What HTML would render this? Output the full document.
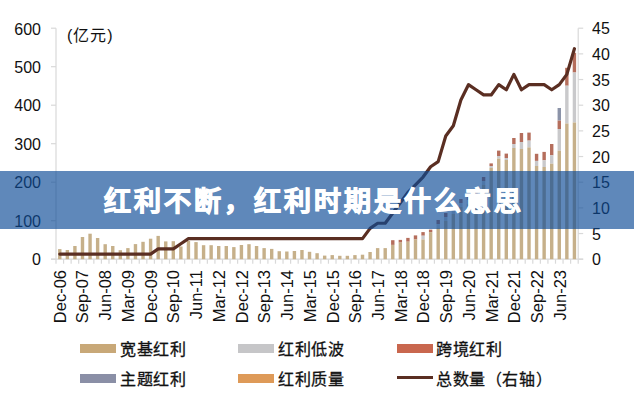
<!DOCTYPE html>
<html lang="zh-CN"><head><meta charset="utf-8">
<style>
html,body{margin:0;padding:0;background:#fff;}
body{width:634px;height:400px;position:relative;overflow:hidden;font-family:"Liberation Sans",sans-serif;color:#111;}
svg{position:absolute;left:0;top:0;}
.yl{position:absolute;right:593px;font-size:16px;line-height:18px;text-align:right;}
.yr{position:absolute;left:592px;font-size:16px;line-height:18px;}
.xl{position:absolute;top:270.2px;width:0;height:0;font-size:16.5px;line-height:18px;}
.xl span{position:absolute;right:0;top:0;white-space:nowrap;transform-origin:100% 0;transform:rotate(-90deg);}
.unit{position:absolute;left:67px;top:27px;font-size:16px;line-height:18px;letter-spacing:1px;}
.banner{position:absolute;left:0;top:171px;width:634px;height:57.5px;background:rgba(12,75,150,0.66);}
.title{position:absolute;left:104px;top:183.5px;font-size:27px;line-height:36px;font-weight:900;color:#fff;-webkit-text-stroke:1px #fff;white-space:nowrap;letter-spacing:3px;}
.leg{position:absolute;font-size:16px;line-height:18px;white-space:nowrap;letter-spacing:0.6px;-webkit-text-stroke:0.3px #111;}
.sw{position:absolute;width:36px;height:9px;}
</style></head><body>
<svg width="634" height="400" viewBox="0 0 634 400">
<line x1="56.0" y1="28.2" x2="56.0" y2="259.2" stroke="#D9D9D9" stroke-width="1.2"/><line x1="578.2" y1="28.2" x2="578.2" y2="259.2" stroke="#D9D9D9" stroke-width="1.2"/><line x1="51.0" y1="259.20" x2="56.0" y2="259.20" stroke="#D9D9D9" stroke-width="1.2"/><line x1="51.0" y1="220.70" x2="56.0" y2="220.70" stroke="#D9D9D9" stroke-width="1.2"/><line x1="51.0" y1="182.20" x2="56.0" y2="182.20" stroke="#D9D9D9" stroke-width="1.2"/><line x1="51.0" y1="143.70" x2="56.0" y2="143.70" stroke="#D9D9D9" stroke-width="1.2"/><line x1="51.0" y1="105.20" x2="56.0" y2="105.20" stroke="#D9D9D9" stroke-width="1.2"/><line x1="51.0" y1="66.70" x2="56.0" y2="66.70" stroke="#D9D9D9" stroke-width="1.2"/><line x1="51.0" y1="28.20" x2="56.0" y2="28.20" stroke="#D9D9D9" stroke-width="1.2"/><line x1="578.2" y1="259.20" x2="583.2" y2="259.20" stroke="#D9D9D9" stroke-width="1.2"/><line x1="578.2" y1="233.53" x2="583.2" y2="233.53" stroke="#D9D9D9" stroke-width="1.2"/><line x1="578.2" y1="207.87" x2="583.2" y2="207.87" stroke="#D9D9D9" stroke-width="1.2"/><line x1="578.2" y1="182.20" x2="583.2" y2="182.20" stroke="#D9D9D9" stroke-width="1.2"/><line x1="578.2" y1="156.53" x2="583.2" y2="156.53" stroke="#D9D9D9" stroke-width="1.2"/><line x1="578.2" y1="130.87" x2="583.2" y2="130.87" stroke="#D9D9D9" stroke-width="1.2"/><line x1="578.2" y1="105.20" x2="583.2" y2="105.20" stroke="#D9D9D9" stroke-width="1.2"/><line x1="578.2" y1="79.53" x2="583.2" y2="79.53" stroke="#D9D9D9" stroke-width="1.2"/><line x1="578.2" y1="53.87" x2="583.2" y2="53.87" stroke="#D9D9D9" stroke-width="1.2"/><line x1="578.2" y1="28.20" x2="583.2" y2="28.20" stroke="#D9D9D9" stroke-width="1.2"/><line x1="51.0" y1="259.2" x2="583.2" y2="259.2" stroke="#D9D9D9" stroke-width="1.2"/><line x1="56.00" y1="259.2" x2="56.00" y2="263.7" stroke="#D9D9D9" stroke-width="1.2"/><line x1="63.57" y1="259.2" x2="63.57" y2="263.7" stroke="#D9D9D9" stroke-width="1.2"/><line x1="71.14" y1="259.2" x2="71.14" y2="263.7" stroke="#D9D9D9" stroke-width="1.2"/><line x1="78.70" y1="259.2" x2="78.70" y2="263.7" stroke="#D9D9D9" stroke-width="1.2"/><line x1="86.27" y1="259.2" x2="86.27" y2="263.7" stroke="#D9D9D9" stroke-width="1.2"/><line x1="93.84" y1="259.2" x2="93.84" y2="263.7" stroke="#D9D9D9" stroke-width="1.2"/><line x1="101.41" y1="259.2" x2="101.41" y2="263.7" stroke="#D9D9D9" stroke-width="1.2"/><line x1="108.98" y1="259.2" x2="108.98" y2="263.7" stroke="#D9D9D9" stroke-width="1.2"/><line x1="116.54" y1="259.2" x2="116.54" y2="263.7" stroke="#D9D9D9" stroke-width="1.2"/><line x1="124.11" y1="259.2" x2="124.11" y2="263.7" stroke="#D9D9D9" stroke-width="1.2"/><line x1="131.68" y1="259.2" x2="131.68" y2="263.7" stroke="#D9D9D9" stroke-width="1.2"/><line x1="139.25" y1="259.2" x2="139.25" y2="263.7" stroke="#D9D9D9" stroke-width="1.2"/><line x1="146.82" y1="259.2" x2="146.82" y2="263.7" stroke="#D9D9D9" stroke-width="1.2"/><line x1="154.39" y1="259.2" x2="154.39" y2="263.7" stroke="#D9D9D9" stroke-width="1.2"/><line x1="161.95" y1="259.2" x2="161.95" y2="263.7" stroke="#D9D9D9" stroke-width="1.2"/><line x1="169.52" y1="259.2" x2="169.52" y2="263.7" stroke="#D9D9D9" stroke-width="1.2"/><line x1="177.09" y1="259.2" x2="177.09" y2="263.7" stroke="#D9D9D9" stroke-width="1.2"/><line x1="184.66" y1="259.2" x2="184.66" y2="263.7" stroke="#D9D9D9" stroke-width="1.2"/><line x1="192.23" y1="259.2" x2="192.23" y2="263.7" stroke="#D9D9D9" stroke-width="1.2"/><line x1="199.79" y1="259.2" x2="199.79" y2="263.7" stroke="#D9D9D9" stroke-width="1.2"/><line x1="207.36" y1="259.2" x2="207.36" y2="263.7" stroke="#D9D9D9" stroke-width="1.2"/><line x1="214.93" y1="259.2" x2="214.93" y2="263.7" stroke="#D9D9D9" stroke-width="1.2"/><line x1="222.50" y1="259.2" x2="222.50" y2="263.7" stroke="#D9D9D9" stroke-width="1.2"/><line x1="230.07" y1="259.2" x2="230.07" y2="263.7" stroke="#D9D9D9" stroke-width="1.2"/><line x1="237.63" y1="259.2" x2="237.63" y2="263.7" stroke="#D9D9D9" stroke-width="1.2"/><line x1="245.20" y1="259.2" x2="245.20" y2="263.7" stroke="#D9D9D9" stroke-width="1.2"/><line x1="252.77" y1="259.2" x2="252.77" y2="263.7" stroke="#D9D9D9" stroke-width="1.2"/><line x1="260.34" y1="259.2" x2="260.34" y2="263.7" stroke="#D9D9D9" stroke-width="1.2"/><line x1="267.91" y1="259.2" x2="267.91" y2="263.7" stroke="#D9D9D9" stroke-width="1.2"/><line x1="275.48" y1="259.2" x2="275.48" y2="263.7" stroke="#D9D9D9" stroke-width="1.2"/><line x1="283.04" y1="259.2" x2="283.04" y2="263.7" stroke="#D9D9D9" stroke-width="1.2"/><line x1="290.61" y1="259.2" x2="290.61" y2="263.7" stroke="#D9D9D9" stroke-width="1.2"/><line x1="298.18" y1="259.2" x2="298.18" y2="263.7" stroke="#D9D9D9" stroke-width="1.2"/><line x1="305.75" y1="259.2" x2="305.75" y2="263.7" stroke="#D9D9D9" stroke-width="1.2"/><line x1="313.32" y1="259.2" x2="313.32" y2="263.7" stroke="#D9D9D9" stroke-width="1.2"/><line x1="320.88" y1="259.2" x2="320.88" y2="263.7" stroke="#D9D9D9" stroke-width="1.2"/><line x1="328.45" y1="259.2" x2="328.45" y2="263.7" stroke="#D9D9D9" stroke-width="1.2"/><line x1="336.02" y1="259.2" x2="336.02" y2="263.7" stroke="#D9D9D9" stroke-width="1.2"/><line x1="343.59" y1="259.2" x2="343.59" y2="263.7" stroke="#D9D9D9" stroke-width="1.2"/><line x1="351.16" y1="259.2" x2="351.16" y2="263.7" stroke="#D9D9D9" stroke-width="1.2"/><line x1="358.72" y1="259.2" x2="358.72" y2="263.7" stroke="#D9D9D9" stroke-width="1.2"/><line x1="366.29" y1="259.2" x2="366.29" y2="263.7" stroke="#D9D9D9" stroke-width="1.2"/><line x1="373.86" y1="259.2" x2="373.86" y2="263.7" stroke="#D9D9D9" stroke-width="1.2"/><line x1="381.43" y1="259.2" x2="381.43" y2="263.7" stroke="#D9D9D9" stroke-width="1.2"/><line x1="389.00" y1="259.2" x2="389.00" y2="263.7" stroke="#D9D9D9" stroke-width="1.2"/><line x1="396.57" y1="259.2" x2="396.57" y2="263.7" stroke="#D9D9D9" stroke-width="1.2"/><line x1="404.13" y1="259.2" x2="404.13" y2="263.7" stroke="#D9D9D9" stroke-width="1.2"/><line x1="411.70" y1="259.2" x2="411.70" y2="263.7" stroke="#D9D9D9" stroke-width="1.2"/><line x1="419.27" y1="259.2" x2="419.27" y2="263.7" stroke="#D9D9D9" stroke-width="1.2"/><line x1="426.84" y1="259.2" x2="426.84" y2="263.7" stroke="#D9D9D9" stroke-width="1.2"/><line x1="434.41" y1="259.2" x2="434.41" y2="263.7" stroke="#D9D9D9" stroke-width="1.2"/><line x1="441.97" y1="259.2" x2="441.97" y2="263.7" stroke="#D9D9D9" stroke-width="1.2"/><line x1="449.54" y1="259.2" x2="449.54" y2="263.7" stroke="#D9D9D9" stroke-width="1.2"/><line x1="457.11" y1="259.2" x2="457.11" y2="263.7" stroke="#D9D9D9" stroke-width="1.2"/><line x1="464.68" y1="259.2" x2="464.68" y2="263.7" stroke="#D9D9D9" stroke-width="1.2"/><line x1="472.25" y1="259.2" x2="472.25" y2="263.7" stroke="#D9D9D9" stroke-width="1.2"/><line x1="479.81" y1="259.2" x2="479.81" y2="263.7" stroke="#D9D9D9" stroke-width="1.2"/><line x1="487.38" y1="259.2" x2="487.38" y2="263.7" stroke="#D9D9D9" stroke-width="1.2"/><line x1="494.95" y1="259.2" x2="494.95" y2="263.7" stroke="#D9D9D9" stroke-width="1.2"/><line x1="502.52" y1="259.2" x2="502.52" y2="263.7" stroke="#D9D9D9" stroke-width="1.2"/><line x1="510.09" y1="259.2" x2="510.09" y2="263.7" stroke="#D9D9D9" stroke-width="1.2"/><line x1="517.66" y1="259.2" x2="517.66" y2="263.7" stroke="#D9D9D9" stroke-width="1.2"/><line x1="525.22" y1="259.2" x2="525.22" y2="263.7" stroke="#D9D9D9" stroke-width="1.2"/><line x1="532.79" y1="259.2" x2="532.79" y2="263.7" stroke="#D9D9D9" stroke-width="1.2"/><line x1="540.36" y1="259.2" x2="540.36" y2="263.7" stroke="#D9D9D9" stroke-width="1.2"/><line x1="547.93" y1="259.2" x2="547.93" y2="263.7" stroke="#D9D9D9" stroke-width="1.2"/><line x1="555.50" y1="259.2" x2="555.50" y2="263.7" stroke="#D9D9D9" stroke-width="1.2"/><line x1="563.06" y1="259.2" x2="563.06" y2="263.7" stroke="#D9D9D9" stroke-width="1.2"/><line x1="570.63" y1="259.2" x2="570.63" y2="263.7" stroke="#D9D9D9" stroke-width="1.2"/><line x1="578.20" y1="259.2" x2="578.20" y2="263.7" stroke="#D9D9D9" stroke-width="1.2"/><rect x="58.08" y="249.10" width="3.4" height="10.10" fill="#C6B08A"/><rect x="65.65" y="250.00" width="3.4" height="9.20" fill="#C6B08A"/><rect x="73.22" y="246.00" width="3.4" height="13.20" fill="#C6B08A"/><rect x="80.79" y="237.00" width="3.4" height="22.20" fill="#C6B08A"/><rect x="88.36" y="233.70" width="3.4" height="25.50" fill="#C6B08A"/><rect x="95.92" y="238.00" width="3.4" height="21.20" fill="#C6B08A"/><rect x="103.49" y="244.20" width="3.4" height="15.00" fill="#C6B08A"/><rect x="111.06" y="246.00" width="3.4" height="13.20" fill="#C6B08A"/><rect x="118.63" y="250.20" width="3.4" height="9.00" fill="#C6B08A"/><rect x="126.20" y="248.10" width="3.4" height="11.10" fill="#C6B08A"/><rect x="133.77" y="244.10" width="3.4" height="15.10" fill="#C6B08A"/><rect x="141.33" y="241.80" width="3.4" height="17.40" fill="#C6B08A"/><rect x="148.90" y="238.70" width="3.4" height="20.50" fill="#C6B08A"/><rect x="156.47" y="235.90" width="3.4" height="23.30" fill="#C6B08A"/><rect x="164.04" y="241.40" width="3.4" height="17.80" fill="#C6B08A"/><rect x="171.61" y="241.20" width="3.4" height="18.00" fill="#C6B08A"/><rect x="179.17" y="246.50" width="3.4" height="12.70" fill="#C6B08A"/><rect x="186.74" y="240.90" width="3.4" height="18.30" fill="#C6B08A"/><rect x="194.31" y="242.10" width="3.4" height="17.10" fill="#C6B08A"/><rect x="201.88" y="245.20" width="3.4" height="14.00" fill="#C6B08A"/><rect x="209.45" y="245.20" width="3.4" height="14.00" fill="#C6B08A"/><rect x="217.01" y="246.00" width="3.4" height="13.20" fill="#C6B08A"/><rect x="224.58" y="246.00" width="3.4" height="13.20" fill="#C6B08A"/><rect x="232.15" y="247.10" width="3.4" height="12.10" fill="#C6B08A"/><rect x="239.72" y="245.00" width="3.4" height="14.20" fill="#C6B08A"/><rect x="247.29" y="244.20" width="3.4" height="15.00" fill="#C6B08A"/><rect x="254.86" y="246.00" width="3.4" height="13.20" fill="#C6B08A"/><rect x="262.42" y="248.10" width="3.4" height="11.10" fill="#C6B08A"/><rect x="269.99" y="248.90" width="3.4" height="10.30" fill="#C6B08A"/><rect x="277.56" y="251.20" width="3.4" height="8.00" fill="#C6B08A"/><rect x="285.13" y="251.50" width="3.4" height="7.70" fill="#C6B08A"/><rect x="292.70" y="251.00" width="3.4" height="8.20" fill="#C6B08A"/><rect x="300.26" y="250.00" width="3.4" height="9.20" fill="#C6B08A"/><rect x="307.83" y="251.80" width="3.4" height="7.40" fill="#C6B08A"/><rect x="315.40" y="253.20" width="3.4" height="6.00" fill="#C6B08A"/><rect x="322.97" y="255.60" width="3.4" height="3.60" fill="#C6B08A"/><rect x="330.54" y="255.10" width="3.4" height="4.10" fill="#C6B08A"/><rect x="338.10" y="255.80" width="3.4" height="3.40" fill="#C6B08A"/><rect x="345.67" y="255.80" width="3.4" height="3.40" fill="#C6B08A"/><rect x="353.24" y="255.10" width="3.4" height="4.10" fill="#C6B08A"/><rect x="360.81" y="254.70" width="3.4" height="4.50" fill="#C6B08A"/><rect x="368.38" y="252.00" width="3.4" height="7.20" fill="#C6B08A"/><rect x="375.94" y="248.10" width="3.4" height="11.10" fill="#C6B08A"/><rect x="383.51" y="248.10" width="3.4" height="11.10" fill="#C6B08A"/><rect x="391.08" y="240.20" width="3.4" height="4.70" fill="#B56E5C"/><rect x="391.08" y="244.90" width="3.4" height="14.30" fill="#C6B08A"/><rect x="398.65" y="239.90" width="3.4" height="2.70" fill="#B56E5C"/><rect x="398.65" y="242.60" width="3.4" height="16.60" fill="#C6B08A"/><rect x="406.22" y="237.90" width="3.4" height="3.80" fill="#B56E5C"/><rect x="406.22" y="241.70" width="3.4" height="17.50" fill="#C6B08A"/><rect x="413.79" y="235.40" width="3.4" height="4.10" fill="#B56E5C"/><rect x="413.79" y="239.50" width="3.4" height="19.70" fill="#C6B08A"/><rect x="421.35" y="232.10" width="3.4" height="3.60" fill="#B56E5C"/><rect x="421.35" y="235.70" width="3.4" height="3.80" fill="#C9C9CB"/><rect x="421.35" y="239.50" width="3.4" height="19.70" fill="#C6B08A"/><rect x="428.92" y="229.60" width="3.4" height="2.50" fill="#B56E5C"/><rect x="428.92" y="232.10" width="3.4" height="27.10" fill="#C6B08A"/><rect x="436.49" y="220.00" width="3.4" height="4.00" fill="#B56E5C"/><rect x="436.49" y="224.00" width="3.4" height="4.00" fill="#C9C9CB"/><rect x="436.49" y="228.00" width="3.4" height="31.20" fill="#C6B08A"/><rect x="444.06" y="213.00" width="3.4" height="4.00" fill="#B56E5C"/><rect x="444.06" y="217.00" width="3.4" height="4.00" fill="#C9C9CB"/><rect x="444.06" y="221.00" width="3.4" height="38.20" fill="#C6B08A"/><rect x="451.63" y="206.00" width="3.4" height="4.00" fill="#B56E5C"/><rect x="451.63" y="210.00" width="3.4" height="4.00" fill="#C9C9CB"/><rect x="451.63" y="214.00" width="3.4" height="45.20" fill="#C6B08A"/><rect x="459.19" y="199.00" width="3.4" height="4.00" fill="#B56E5C"/><rect x="459.19" y="203.00" width="3.4" height="4.00" fill="#C9C9CB"/><rect x="459.19" y="207.00" width="3.4" height="52.20" fill="#C6B08A"/><rect x="466.76" y="196.00" width="3.4" height="4.00" fill="#B56E5C"/><rect x="466.76" y="200.00" width="3.4" height="4.00" fill="#C9C9CB"/><rect x="466.76" y="204.00" width="3.4" height="55.20" fill="#C6B08A"/><rect x="474.33" y="192.00" width="3.4" height="4.00" fill="#B56E5C"/><rect x="474.33" y="196.00" width="3.4" height="4.00" fill="#C9C9CB"/><rect x="474.33" y="200.00" width="3.4" height="59.20" fill="#C6B08A"/><rect x="481.90" y="177.00" width="3.4" height="4.00" fill="#B56E5C"/><rect x="481.90" y="181.00" width="3.4" height="4.00" fill="#C9C9CB"/><rect x="481.90" y="185.00" width="3.4" height="74.20" fill="#C6B08A"/><rect x="489.47" y="163.40" width="3.4" height="2.60" fill="#B56E5C"/><rect x="489.47" y="166.00" width="3.4" height="2.00" fill="#C9C9CB"/><rect x="489.47" y="168.00" width="3.4" height="91.20" fill="#C6B08A"/><rect x="497.03" y="150.60" width="3.4" height="5.40" fill="#B56E5C"/><rect x="497.03" y="156.00" width="3.4" height="2.60" fill="#C9C9CB"/><rect x="497.03" y="158.60" width="3.4" height="100.60" fill="#C6B08A"/><rect x="504.60" y="153.60" width="3.4" height="4.40" fill="#B56E5C"/><rect x="504.60" y="158.00" width="3.4" height="2.00" fill="#C9C9CB"/><rect x="504.60" y="160.00" width="3.4" height="99.20" fill="#C6B08A"/><rect x="512.17" y="138.00" width="3.4" height="6.00" fill="#B56E5C"/><rect x="512.17" y="144.00" width="3.4" height="4.00" fill="#C9C9CB"/><rect x="512.17" y="148.00" width="3.4" height="111.20" fill="#C6B08A"/><rect x="519.74" y="133.00" width="3.4" height="9.00" fill="#B56E5C"/><rect x="519.74" y="142.00" width="3.4" height="7.00" fill="#C9C9CB"/><rect x="519.74" y="149.00" width="3.4" height="110.20" fill="#C6B08A"/><rect x="527.31" y="132.60" width="3.4" height="8.00" fill="#B56E5C"/><rect x="527.31" y="140.60" width="3.4" height="6.80" fill="#C9C9CB"/><rect x="527.31" y="147.40" width="3.4" height="111.80" fill="#C6B08A"/><rect x="534.88" y="153.80" width="3.4" height="7.10" fill="#B56E5C"/><rect x="534.88" y="160.90" width="3.4" height="5.10" fill="#C9C9CB"/><rect x="534.88" y="166.00" width="3.4" height="93.20" fill="#C6B08A"/><rect x="542.44" y="151.90" width="3.4" height="8.40" fill="#B56E5C"/><rect x="542.44" y="160.30" width="3.4" height="6.70" fill="#C9C9CB"/><rect x="542.44" y="167.00" width="3.4" height="92.20" fill="#C6B08A"/><rect x="550.01" y="144.00" width="3.4" height="11.30" fill="#B56E5C"/><rect x="550.01" y="155.30" width="3.4" height="8.40" fill="#C9C9CB"/><rect x="550.01" y="163.70" width="3.4" height="95.50" fill="#C6B08A"/><rect x="557.58" y="108.00" width="3.4" height="12.60" fill="#8B93A8"/><rect x="557.58" y="120.60" width="3.4" height="8.40" fill="#B56E5C"/><rect x="557.58" y="129.00" width="3.4" height="21.70" fill="#C9C9CB"/><rect x="557.58" y="150.70" width="3.4" height="108.50" fill="#C6B08A"/><rect x="565.15" y="67.80" width="3.4" height="17.90" fill="#B56E5C"/><rect x="565.15" y="85.70" width="3.4" height="37.80" fill="#C9C9CB"/><rect x="565.15" y="123.50" width="3.4" height="135.70" fill="#C6B08A"/><rect x="572.72" y="52.80" width="3.4" height="19.70" fill="#B56E5C"/><rect x="572.72" y="72.50" width="3.4" height="50.00" fill="#C9C9CB"/><rect x="572.72" y="122.50" width="3.4" height="136.70" fill="#C6B08A"/><polyline points="59.78,254.07 67.35,254.07 74.92,254.07 82.49,254.07 90.06,254.07 97.62,254.07 105.19,254.07 112.76,254.07 120.33,254.07 127.90,254.07 135.47,254.07 143.03,254.07 150.60,254.07 158.17,248.93 165.74,248.93 173.31,248.93 180.87,243.80 188.44,238.67 196.01,238.67 203.58,238.67 211.15,238.67 218.71,238.67 226.28,238.67 233.85,238.67 241.42,238.67 248.99,238.67 256.56,238.67 264.12,238.67 271.69,238.67 279.26,238.67 286.83,238.67 294.40,238.67 301.96,238.67 309.53,238.67 317.10,238.67 324.67,238.67 332.24,238.67 339.80,238.67 347.37,238.67 354.94,238.67 362.51,238.67 370.08,228.40 377.64,223.27 385.21,223.27 392.78,213.00 400.35,202.73 407.92,192.47 415.49,184.77 423.05,177.07 430.62,166.80 438.19,161.67 445.76,136.00 453.33,125.73 460.89,100.07 468.46,84.67 476.03,89.80 483.60,94.93 491.17,94.93 498.73,84.67 506.30,89.80 513.87,74.40 521.44,89.80 529.01,84.67 536.58,84.67 544.14,84.67 551.71,89.80 559.28,84.67 566.85,74.40 574.42,48.73" fill="none" stroke="#5A2E22" stroke-width="3.2" stroke-linejoin="round" stroke-linecap="round"/>
</svg>
<div class="yl" style="top:250.9px">0</div><div class="yl" style="top:212.5px">100</div><div class="yl" style="top:174.2px">200</div><div class="yl" style="top:135.8px">300</div><div class="yl" style="top:97.4px">400</div><div class="yl" style="top:59.1px">500</div><div class="yl" style="top:20.7px">600</div><div class="yr" style="top:251.2px">0</div><div class="yr" style="top:225.5px">5</div><div class="yr" style="top:199.9px">10</div><div class="yr" style="top:174.2px">15</div><div class="yr" style="top:148.5px">20</div><div class="yr" style="top:122.9px">25</div><div class="yr" style="top:97.2px">30</div><div class="yr" style="top:71.5px">35</div><div class="yr" style="top:45.9px">40</div><div class="yr" style="top:20.2px">45</div><div class="xl" style="left:50.88px"><span>Dec-06</span></div><div class="xl" style="left:73.62px"><span>Sep-07</span></div><div class="xl" style="left:96.36px"><span>Jun-08</span></div><div class="xl" style="left:119.09px"><span>Mar-09</span></div><div class="xl" style="left:141.83px"><span>Dec-09</span></div><div class="xl" style="left:164.56px"><span>Sep-10</span></div><div class="xl" style="left:187.30px"><span>Jun-11</span></div><div class="xl" style="left:210.04px"><span>Mar-12</span></div><div class="xl" style="left:232.77px"><span>Dec-12</span></div><div class="xl" style="left:255.51px"><span>Sep-13</span></div><div class="xl" style="left:278.25px"><span>Jun-14</span></div><div class="xl" style="left:300.98px"><span>Mar-15</span></div><div class="xl" style="left:323.72px"><span>Dec-15</span></div><div class="xl" style="left:346.45px"><span>Sep-16</span></div><div class="xl" style="left:369.19px"><span>Jun-17</span></div><div class="xl" style="left:391.93px"><span>Mar-18</span></div><div class="xl" style="left:414.66px"><span>Dec-18</span></div><div class="xl" style="left:437.40px"><span>Sep-19</span></div><div class="xl" style="left:460.14px"><span>Jun-20</span></div><div class="xl" style="left:482.87px"><span>Mar-21</span></div><div class="xl" style="left:505.61px"><span>Dec-21</span></div><div class="xl" style="left:528.34px"><span>Sep-22</span></div><div class="xl" style="left:551.08px"><span>Jun-23</span></div>
<div class="unit">(亿元)</div>
<div class="sw" style="left:80px;top:344px;background:#C8A878"></div><div class="leg" style="left:120px;top:341px">宽基红利</div>
<div class="sw" style="left:238px;top:344px;background:#C6C6C8"></div><div class="leg" style="left:278px;top:341px">红利低波</div>
<div class="sw" style="left:397px;top:344px;background:#C9674E"></div><div class="leg" style="left:436px;top:341px">跨境红利</div>
<div class="sw" style="left:80px;top:374px;background:#8A8FA6"></div><div class="leg" style="left:120px;top:371px">主题红利</div>
<div class="sw" style="left:238px;top:374px;background:#DE9A58"></div><div class="leg" style="left:278px;top:371px">红利质量</div>
<div class="sw" style="left:397px;top:375.5px;height:3.2px;background:#5A2E22"></div><div class="leg" style="left:436px;top:371px">总数量（右轴）</div>
<div class="banner"></div>
<div class="title">红利不断，红利时期是什么意思</div>
</body></html>
